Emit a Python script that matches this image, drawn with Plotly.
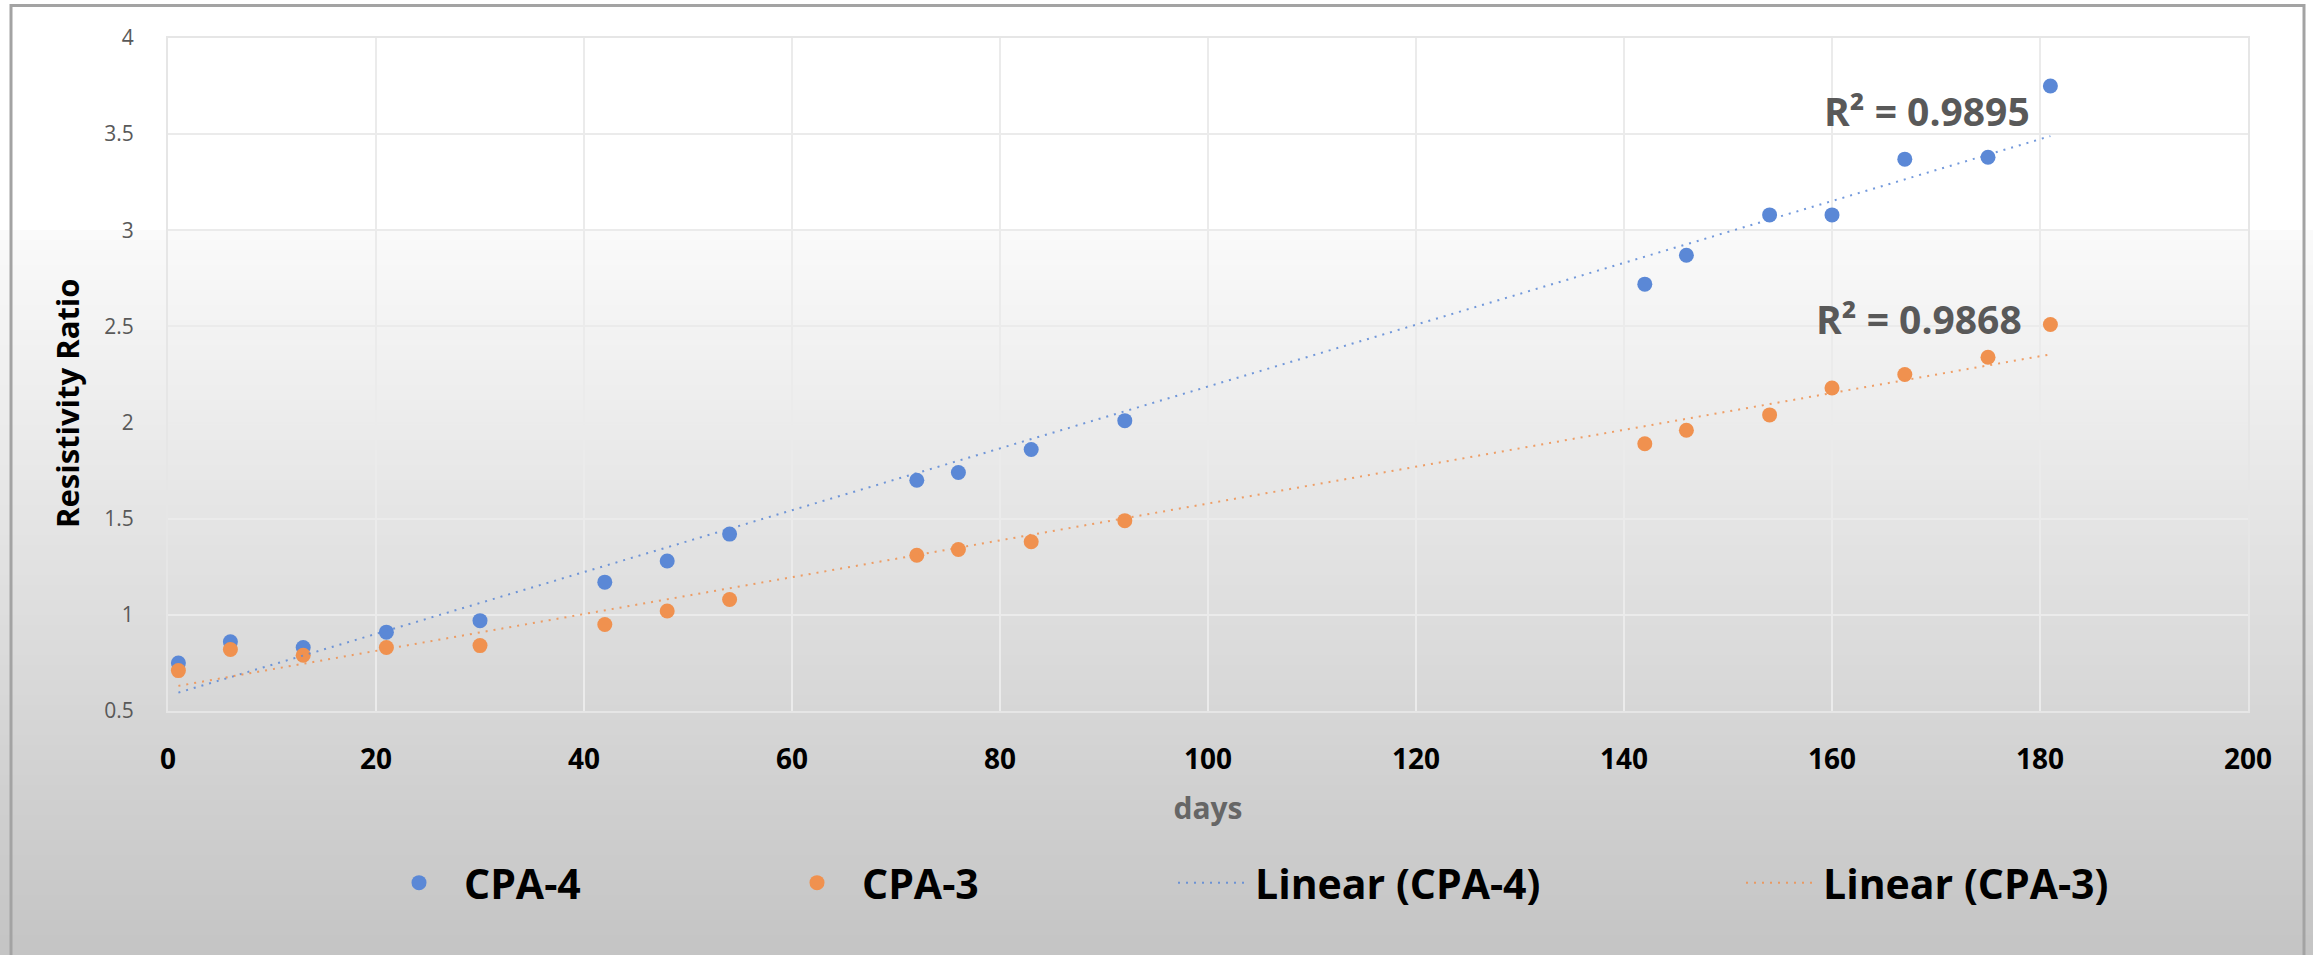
import numpy as np
import plotly.graph_objects as go

# ---------------- data ----------------
days = [1, 6, 13, 21, 30, 42, 48, 54, 72, 76, 83, 92, 142, 146, 154, 160, 167, 175, 181]
cpa4 = [0.75, 0.86, 0.83, 0.91, 0.97, 1.17, 1.28, 1.42, 1.70, 1.74, 1.86, 2.01,
        2.72, 2.87, 3.08, 3.08, 3.37, 3.38, 3.75]
cpa3 = [0.71, 0.82, 0.79, 0.83, 0.84, 0.95, 1.02, 1.08, 1.31, 1.34, 1.38, 1.49,
        1.89, 1.96, 2.04, 2.18, 2.25, 2.34, 2.51]
series_names = ["CPA-4", "CPA-3", "Linear (CPA-4)", "Linear (CPA-3)"]
r2_labels = ["R\u00b2 = 0.9895", "R\u00b2 = 0.9868"]
x_tickvals = [0, 20, 40, 60, 80, 100, 120, 140, 160, 180, 200]
x_ticktext = ["0", "20", "40", "60", "80", "100", "120", "140", "160", "180", "200"]
y_tickvals = [0.5, 1, 1.5, 2, 2.5, 3, 3.5, 4]
y_ticktext = ["0.5", "1", "1.5", "2", "2.5", "3", "3.5", "4"]
x_title = "days"
y_title = "Resistivity Ratio"

# ---------------- layout geometry ----------------
W, H = 2313, 955
ML, MR, MT, MB = 168, 65, 38, 244
PW, PH = W - ML - MR, H - MT - MB


def pxx(px):
    return (px - ML) / PW


def pxy(py):
    return (H - MB - py) / PH


BLUE = "#5b88d6"
ORANGE = "#f0914f"
FONT = "Open Sans"

fig = go.Figure()

fig.add_trace(go.Scatter(x=days, y=cpa4, mode="markers", name=series_names[0],
                         marker=dict(color=BLUE, size=15), legend="legend", showlegend=True))
fig.add_trace(go.Scatter(x=days, y=cpa3, mode="markers", name=series_names[1],
                         marker=dict(color=ORANGE, size=15), legend="legend2", showlegend=True))

# linear trendlines (least squares over the data, as in the spreadsheet)
for vals, col, nm, lg in [(cpa4, BLUE, series_names[2], "legend3"),
                          (cpa3, ORANGE, series_names[3], "legend4")]:
    coef = np.polyfit(days, vals, 1)
    xs = [days[0], days[-1]]
    ys = [float(v) for v in np.polyval(coef, xs)]
    fig.add_trace(go.Scatter(x=xs, y=ys, mode="lines", name=nm, showlegend=True,
                             line=dict(color=col, width=2, dash="2px,6px"),
                             opacity=0.85, legend=lg))

# ---------------- background gradient (stripes) ----------------
shapes = []
step = 5
for py in range(0, H + step, step):
    yc = py + step / 2
    if yc < 231:
        v = 255
    else:
        v = int(round(250 - (yc - 231) * (250 - 196) / (H - 231)))
    shapes.append(dict(type="rect", xref="paper", yref="paper",
                       x0=pxx(-5), x1=pxx(W + 5), y0=pxy(py + step + 0.5), y1=pxy(py),
                       fillcolor=f"rgb({v},{v},{v})", line=dict(width=0), layer="below"))
# outer frame
shapes.append(dict(type="rect", xref="paper", yref="paper",
                   x0=pxx(11), x1=pxx(2304), y0=pxy(H + 20), y1=pxy(5.5),
                   fillcolor="rgba(0,0,0,0)", line=dict(color="#a3a3a3", width=3),
                   layer="below"))

legend_common = dict(xref="container", yref="container", yanchor="middle", xanchor="left",
                     bgcolor="rgba(0,0,0,0)", borderwidth=0,
                     font=dict(family=FONT, size=41, color="#000000", weight="bold"))

fig.update_layout(
    width=W, height=H,
    showlegend=True,
    margin=dict(l=ML, r=MR, t=MT, b=MB, pad=0, autoexpand=False),
    paper_bgcolor="white",
    plot_bgcolor="rgba(0,0,0,0)",
    shapes=shapes,
    xaxis=dict(range=[0, 200], tickvals=x_tickvals, ticktext=x_ticktext,
               showgrid=True, gridcolor="#ebebeb", gridwidth=2, automargin=False,
               zeroline=False, showline=True, linecolor="#e6e6e6", linewidth=2, mirror=True,
               ticks="", ticklabelstandoff=22,
               tickfont=dict(family=FONT, size=28, color="#000000", weight="bold"),
               title=dict(text=x_title, standoff=22,
                          font=dict(family=FONT, size=30, color="#666666", weight="bold"))),
    yaxis=dict(range=[0.5, 4], tickvals=y_tickvals, ticktext=y_ticktext,
               showgrid=True, gridcolor="#ebebeb", gridwidth=2, automargin=False,
               zeroline=False, showline=True, linecolor="#e6e6e6", linewidth=2, mirror=True,
               ticks="", ticklabelstandoff=28,
               tickfont=dict(family=FONT, size=21, color="#595959")),
    legend=dict(x=374 / W, y=1 - 883 / H, itemwidth=80, **legend_common),
    legend2=dict(x=772 / W, y=1 - 883 / H, itemwidth=80, **legend_common),
    legend3=dict(x=1173 / W, y=1 - 883 / H, itemwidth=72, **legend_common),
    legend4=dict(x=1741 / W, y=1 - 883 / H, itemwidth=72, **legend_common),
    annotations=[
        dict(x=169.1, y=3.625, xref="x", yref="y", text=r2_labels[0], showarrow=False,
             font=dict(family=FONT, size=39, color="#595959", weight="bold")),
        dict(x=168.4, y=2.54, xref="x", yref="y", text=r2_labels[1], showarrow=False,
             font=dict(family=FONT, size=39, color="#595959", weight="bold")),
        dict(x=pxx(67), y=pxy(403), xref="paper", yref="paper", text=y_title,
             textangle=-90, showarrow=False, xanchor="center", yanchor="middle",
             font=dict(family=FONT, size=31, color="#000000", weight="bold")),
    ],
)

fig.write_html("out.html")
